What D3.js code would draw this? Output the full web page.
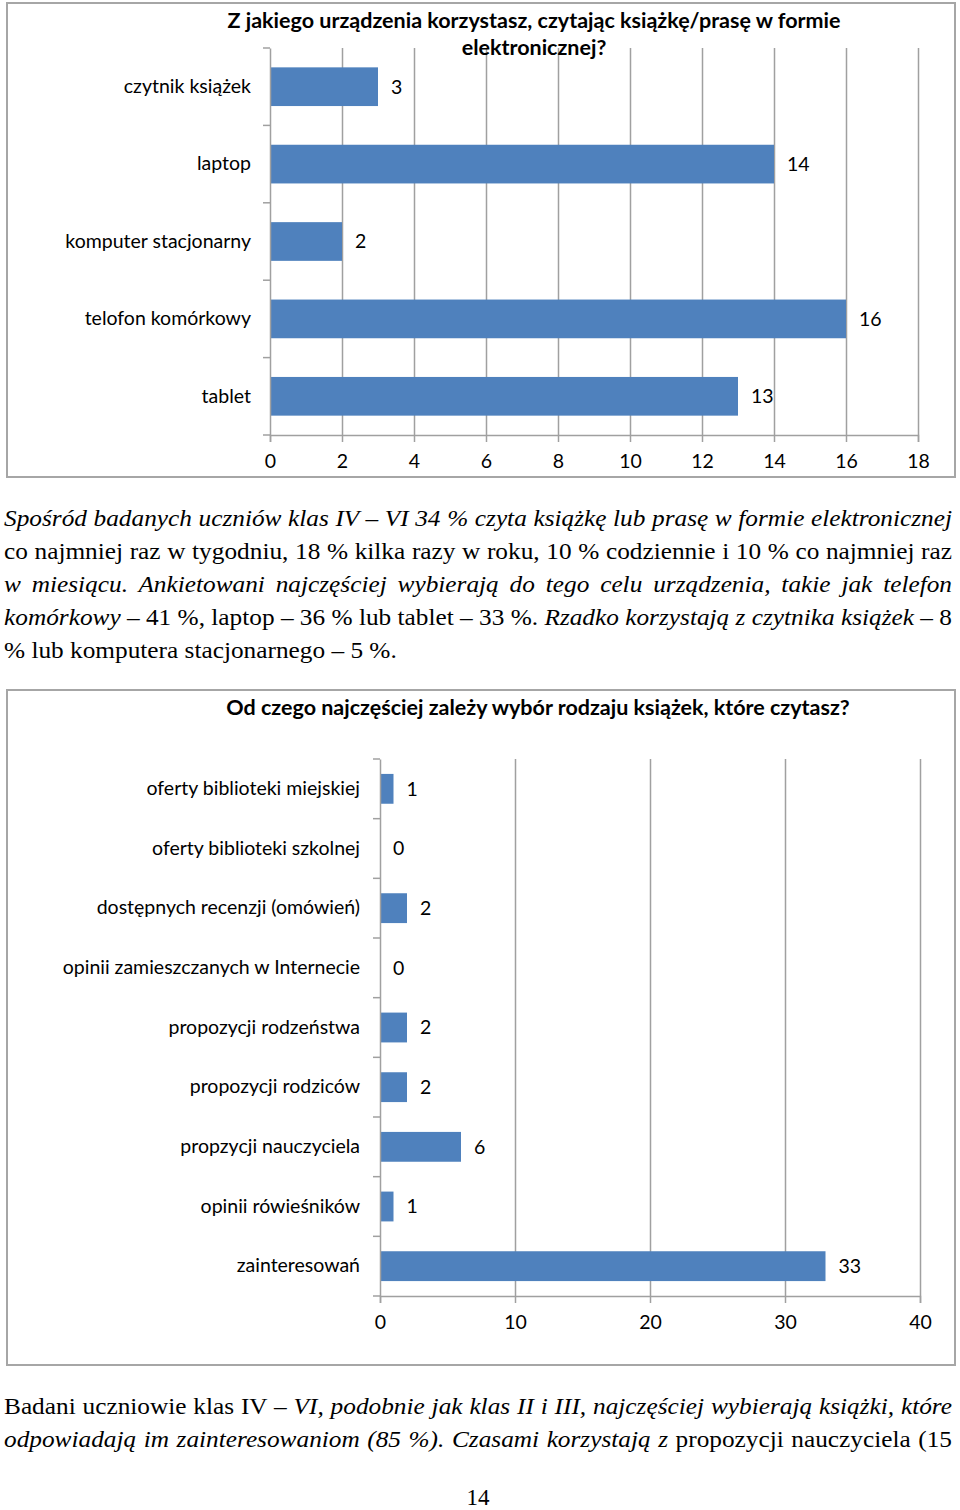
<!DOCTYPE html>
<html>
  <head>
    <meta charset="utf-8">
    <title>Czytelnictwo</title>
    <style media="screen">
      body {margin:0; background:#fff}
      .lab {font-family: Lato, sans-serif; font-size: 19.5px; fill: #000}
      .ttl {font-family: Lato, sans-serif; font-size: 21.5px; font-weight: bold; fill: #000}
      .prose {font-family: "Liberation Serif", "Times New Roman", serif; font-size: 23px; fill: #000}
    </style>
  </head>
  <body>
    <script src="https://cdn.jsdelivr.net/npm/d3@7"></script>
    <script type="text/javascript">

    // chart 1
    const devCats = ['czytnik książek', 'laptop', 'komputer stacjonarny', 'telofon komórkowy', 'tablet']
    const devVals = [3, 14, 2, 16, 13]
    const devTicks = [0, 2, 4, 6, 8, 10, 12, 14, 16, 18]
    const devTitle = ['Z jakiego urządzenia korzystasz, czytając książkę/prasę w formie', 'elektronicznej?']

    // chart 2
    const whyCats = ['oferty biblioteki miejskiej', 'oferty biblioteki szkolnej', 'dostępnych recenzji (omówień)',
      'opinii zamieszczanych w Internecie', 'propozycji rodzeństwa', 'propozycji rodziców',
      'propzycji nauczyciela', 'opinii rówieśników', 'zainteresowań']
    const whyVals = [1, 0, 2, 0, 2, 2, 6, 1, 33]
    const whyTicks = [0, 10, 20, 30, 40]
    const whyTitle = ['Od czego najczęściej zależy wybór rodzaju książek, które czytasz?']

    // text, [string, italic]
    const para1 = [
      [['Spośród badanych uczniów klas IV – VI 34 % czyta książkę lub prasę w formie elektronicznej', 1]],
      [['co najmniej raz w tygodniu, 18 % kilka razy w roku, 10 % codziennie i 10 % co najmniej raz', 0]],
      [['w miesiącu. Ankietowani najczęściej wybierają do tego celu urządzenia, takie jak telefon', 1]],
      [['komórkowy', 1], [' – 41 %, laptop – 36 % lub tablet – 33 %.', 0], [' Rzadko korzystają z czytnika książek', 1], [' – 8', 0]],
      [['% lub komputera stacjonarnego – 5 %.', 0]]
    ]
    const para2 = [
      [['Badani uczniowie klas IV – ', 0], ['VI, podobnie jak klas II i III, najczęściej wybierają książki, które', 1]],
      [['odpowiadają im zainteresowaniom (85 %). Czasami korzystają z', 1], [' propozycji nauczyciela (15', 0]]
    ]
    const pageNo = '14'

    const W = 960, H = 1510
    const blue = '#4f81bd', grid = '#a0a0a0'

    const svg = d3.select('body').append('svg')
      .attr('width', W).attr('height', H)

    function chart(o) {
      const g = svg.append('g')

      g.append('rect')
        .attr('x', o.box[0]).attr('y', o.box[1])
        .attr('width', o.box[2] - o.box[0]).attr('height', o.box[3] - o.box[1])
        .attr('fill', '#fff').attr('stroke', '#a6a6a6').attr('stroke-width', 2)

      const x = d3.scaleLinear().domain([0, d3.max(o.ticks)]).range([o.left, o.right])
      const y = d3.scaleBand().domain(o.cats).range([o.top, o.bottom])
        .paddingInner(0.5).paddingOuter(0.25)

      // gridlines
      g.append('g')
        .attr('transform', `translate(0,${o.bottom})`)
        .call(d3.axisBottom(x).tickValues(o.ticks.slice(1)).tickSize(-(o.bottom - o.top)).tickFormat(''))
        .call(a => a.select('.domain').remove())
        .call(a => a.selectAll('line').attr('stroke', grid).attr('stroke-width', 1.5))

      // bars
      g.selectAll('rect.bar').data(o.vals).join('rect')
        .attr('class', 'bar')
        .attr('x', x(0))
        .attr('y', (d, i) => y(o.cats[i]))
        .attr('width', d => x(d) - x(0))
        .attr('height', y.bandwidth())
        .attr('fill', blue)

      // value labels
      g.selectAll('text.val').data(o.vals).join('text')
        .attr('class', 'val lab')
        .attr('x', d => x(d) + 13)
        .attr('y', (d, i) => y(o.cats[i]) + y.bandwidth() / 2)
        .attr('dy', '0.35em')
        .text(d => d)

      // x axis
      g.append('g')
        .attr('transform', `translate(0,${o.bottom})`)
        .call(d3.axisBottom(x).tickValues(o.ticks).tickSize(7).tickPadding(12))
        .call(a => a.selectAll('line, path').attr('stroke', grid).attr('stroke-width', 1.5))
        .call(a => a.selectAll('text').attr('class', 'lab').attr('font-family', null).attr('font-size', null))

      // y axis: labels at band centres, ticks at band edges
      g.append('g')
        .attr('transform', `translate(${o.left},0)`)
        .call(d3.axisLeft(y).tickSize(0).tickPadding(o.pad))
        .call(a => a.select('.domain').attr('stroke', grid).attr('stroke-width', 1.5))
        .call(a => a.selectAll('text').attr('class', 'lab').attr('font-family', null).attr('font-size', null))

      const edges = d3.range(o.cats.length + 1).map(i => o.top + i * y.step())
      g.selectAll('line.edge').data(edges).join('line')
        .attr('class', 'edge')
        .attr('x1', o.left - 7).attr('x2', o.left)
        .attr('y1', d => d).attr('y2', d => d)
        .attr('stroke', grid).attr('stroke-width', 1.5)

      // title
      g.selectAll('text.ttl').data(o.title).join('text')
        .attr('class', 'ttl')
        .attr('x', o.tx)
        .attr('y', (d, i) => o.ty + i * 27)
        .attr('text-anchor', 'middle')
        .text(d => d)
    }

    chart({box: [7, 3, 955, 477], left: 270, right: 918, top: 48, bottom: 435, pad: 19,
      cats: devCats, vals: devVals, ticks: devTicks, title: devTitle, tx: 534, ty: 28})

    chart({box: [7, 690, 955, 1365], left: 380, right: 920, top: 759, bottom: 1296, pad: 20,
      cats: whyCats, vals: whyVals, ticks: whyTicks, title: whyTitle, tx: 538, ty: 715})

    // prose, squeezed a bit like the scan and justified between 4 and 952
    function line(y, segs, width, sx) {
      const g = svg.append('g').attr('transform', `translate(4,${y}) scale(${sx},1)`)
      const t = g.append('text').attr('class', 'prose')
      segs.forEach(s => t.append('tspan').attr('font-style', s[1] ? 'italic' : 'normal').text(s[0]))
      if (width) {
        const n = segs.map(s => s[0]).join('').split(' ').length - 1
        const w = t.node().getComputedTextLength()
        t.style('word-spacing', ((width / sx - w) / n) + 'px')
      }
      return t
    }

    // find the squeeze from the short last line (393px wide in the scan)
    const probe = line(-100, para1[4], 0, 1)
    const sx = 393 / probe.node().getComputedTextLength()
    probe.remove()

    para1.forEach((segs, i) => line(526 + i * 33, segs, i < 4 ? 948 : 0, sx))
    para2.forEach((segs, i) => line(1414 + i * 33, segs, 948, sx))

    svg.append('text').attr('class', 'prose')
      .attr('x', 478).attr('y', 1505).attr('text-anchor', 'middle')
      .text(pageNo)

    </script>
  </body>
</html>
